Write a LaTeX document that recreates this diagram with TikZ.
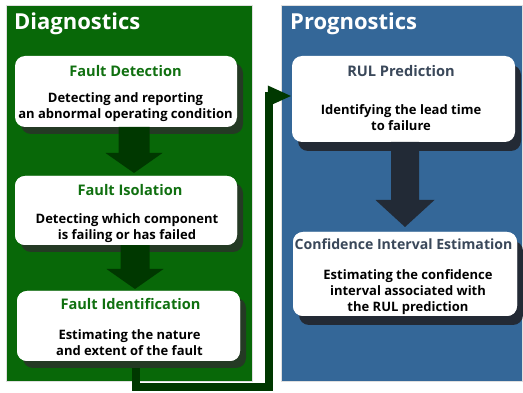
\documentclass[tikz,border=0pt]{standalone}
\usepackage{fontspec}
\setmainfont{Open Sans}
\usetikzlibrary{calc,shadows,arrows.meta}
\definecolor{gpanel}{RGB}{8,104,8}
\definecolor{bpanel}{RGB}{52,103,152}
\definecolor{gshadow}{RGB}{36,58,36}
\definecolor{bshadow}{RGB}{35,42,53}
\definecolor{garrow}{RGB}{0,56,0}
\definecolor{barrow}{RGB}{34,42,54}
\definecolor{gtitle}{RGB}{16,112,16}
\definecolor{btitle}{RGB}{58,72,90}
\newcommand\blkarrow[6]{%
  \fill[#1] let \p1=#2, \p2=#3 in
    (\x1-#4pt,\y1) -- (\x1+#4pt,\y1) -- (\x1+#4pt,\y2+#6pt) -- (\x1+#5pt,\y2+#6pt)
    -- (\x1,\y2) -- (\x1-#5pt,\y2+#6pt) -- (\x1-#4pt,\y2+#6pt) -- cycle;}
\tikzset{
  panel/.style={inner sep=0pt, outer sep=0pt, draw=white!75!gray, line width=0.6pt},
  gbox/.style={fill=white, rounded corners=10pt, inner sep=0pt, outer sep=0pt,
    drop shadow={shadow xshift=6pt, shadow yshift=-7pt, opacity=1, fill=gshadow}},
  bbox/.style={fill=white, rounded corners=10pt, inner sep=0pt, outer sep=0pt,
    drop shadow={shadow xshift=6pt, shadow yshift=-9pt, opacity=1, fill=bshadow}},
  plainbox/.style={fill=white, rounded corners=10pt, inner sep=0pt, outer sep=0pt},
  header/.style={anchor=base west, inner sep=0pt, text=white, font=\fontsize{22}{26}\selectfont\bfseries},
  gtit/.style={anchor=base, inner sep=0pt, text=gtitle, font=\fontsize{14.6}{18}\selectfont\bfseries},
  btit/.style={anchor=base, inner sep=0pt, text=btitle, font=\fontsize{14.6}{18}\selectfont\bfseries},
  body/.style={anchor=north, inner sep=0pt, align=center, text=black, font=\fontsize{13}{16}\selectfont\bfseries},
  conn/.style={draw=garrow, line width=7.5pt, -{Triangle[length=24pt,width=19pt]}}
}
\begin{document}
\begin{tikzpicture}[x=1pt,y=-1pt]
\useasboundingbox (0,0) rectangle (523,393);
% panels
\node[panel, fill=gpanel, minimum width=246pt, minimum height=376pt] (gp) at (129,193) {};
\node[panel, fill=bpanel, minimum width=241pt, minimum height=376pt] (bp) at (401.5,193) {};
\node[header] (dh) at (14,30) {Diagnostics};
\node[header] (ph) at (290,30) {Prognostics};
% box positions
\coordinate (fdc) at (126,91.5);
\coordinate (fic) at (126,210.5);
\coordinate (fidc) at (128.5,326);
\coordinate (rulc) at (403.5,99);
\coordinate (ciec) at (405,274);
\path (fidc) node[minimum width=223pt, minimum height=70pt, inner sep=0pt] (fid0) {}
      (rulc) node[minimum width=223pt, minimum height=86pt, inner sep=0pt] (rul0) {};
% connector
\coordinate (c1) at (269,387);
\coordinate (c2) at (269,96);
\draw[conn] ($(fid0.south)+(7.5,0)$) |- (c1) -- (c2) -- (rul0.west |- c2);
% boxes
\node[gbox, minimum width=222pt, minimum height=71pt] (fd) at (fdc) {};
\node[gbox, minimum width=222pt, minimum height=69pt] (fi) at (fic) {};
\node[gbox, minimum width=223pt, minimum height=70pt] (fid) at (fidc) {};
\node[bbox, minimum width=223pt, minimum height=86pt] (rul) at (rulc) {};
\node[bbox, minimum width=224pt, minimum height=84pt] (cie) at (ciec) {};
% block arrows
\blkarrow{garrow}{($(fd.south)+(8,0)$)}{($(fi.north)+(8,-3)$)}{15.5}{28.5}{20}
\blkarrow{garrow}{($(fi.south)+(9,0)$)}{($(fid.north)+(6.5,-2)$)}{14.5}{28.5}{20}
\blkarrow{barrow}{($(rul.south)+(1.5,0)$)}{($(cie.north)+(0,-5)$)}{14}{29.5}{27}
% redraw boxes over arrow tops
\node[plainbox, minimum width=222pt, minimum height=69pt] (fi2) at (fic) {};
\node[plainbox, minimum width=223pt, minimum height=70pt] (fid2) at (fidc) {};
\node[plainbox, minimum width=224pt, minimum height=84pt] (cie2) at (ciec) {};
% texts
\node[gtit] (fdt) at (125.5,77) {Fault Detection};
\node[body] (fdb) at (125.5,92) {Detecting and reporting\\an abnormal operating condition};
\node[gtit] (fit) at (130,196) {Fault Isolation};
\node[body] (fib) at (127,213) {Detecting which component\\is failing or has failed};
\node[gtit] (fidt) at (130.5,309) {Fault Identification};
\node[body] (fidb) at (129.5,329) {Estimating the nature\\and extent of the fault};
\node[btit] (rult) at (401,77) {RUL Prediction};
\node[body] (rulb) at (401,104) {Identifying the lead time\\to failure};
\node[btit, font=\fontsize{14.1}{18}\selectfont\bfseries] (ciet) at (403.5,250) {Confidence Interval Estimation};
\node[body] (cieb) at (408,269) {Estimating the confidence\\interval associated with\\the RUL prediction};
\end{tikzpicture}
\end{document}
